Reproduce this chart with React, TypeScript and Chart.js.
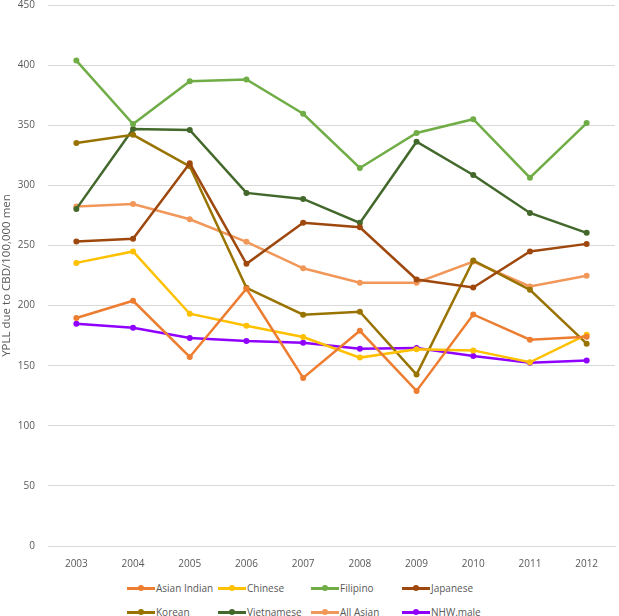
import React, { useEffect, useRef } from "react";
import { Chart, registerables } from "chart.js";

Chart.register(...registerables);

const years = ["2003", "2004", "2005", "2006", "2007", "2008", "2009", "2010", "2011", "2012"];

const asianIndian = [189.6, 204, 157.2, 214, 139.8, 179, 129, 192.6, 171.6, 174];
const chinese = [235.5, 245, 193.2, 183.2, 173.8, 156.7, 163.6, 162.7, 152.8, 175.8];
const filipino = [403.8, 351, 386.6, 388, 359.5, 314.4, 343.5, 355, 306.4, 351.8];
const japanese = [253.2, 255.5, 318.3, 234.7, 268.8, 265.1, 221.7, 215, 245, 251.3];
const korean = [335.2, 342, 315.8, 214.8, 192.4, 194.9, 142.6, 237.5, 213.1, 168.3];
const vietnamese = [280.4, 346.8, 346, 293.7, 288.7, 268.8, 336.3, 308.6, 277, 260.5];
const allAsian = [282.3, 284.5, 271.8, 253, 231, 219, 219, 236.6, 215.9, 224.8];
const nhwMale = [184.9, 181.6, 173, 170.5, 169.1, 164.1, 164.7, 158, 152.5, 154.2];

const seriesNames = ["Asian Indian", "Chinese", "Filipino", "Japanese", "Korean", "Vietnamese", "All Asian", "NHW.male"];
const seriesData = [asianIndian, chinese, filipino, japanese, korean, vietnamese, allAsian, nhwMale];
const seriesColors = ["#ED7D31", "#FFC000", "#70AD47", "#9E480E", "#997300", "#43682B", "#F1975A", "#9000FF"];

const yTitle = "YPLL due to CBD/100,000 men";
const FONT = "'Open Sans', 'Noto Sans', sans-serif";

export default function App() {
  const ref = useRef<HTMLCanvasElement | null>(null);

  useEffect(() => {
    if (!ref.current) return;
    const chart = new Chart(ref.current, {
      type: "line",
      data: {
        labels: years,
        datasets: seriesNames.map((name, i) => ({
          label: name,
          data: seriesData[i],
          borderColor: seriesColors[i],
          backgroundColor: seriesColors[i],
          borderWidth: 2.5,
          pointRadius: 3,
          pointBorderWidth: 0,
          tension: 0,
        })),
      },
      options: {
        responsive: false,
        animation: false,
        layout: { padding: { top: 0, right: 0, bottom: 0, left: 0 } },
        plugins: {
          legend: { display: false },
          tooltip: { enabled: false },
        },
        scales: {
          x: {
            offset: true,
            afterFit: (s: any) => { s.height = 30; },
            grid: { display: false },
            border: { color: "#d9d9d9" },
            ticks: { color: "#595959", font: { family: FONT, size: 10 }, padding: 4, maxRotation: 0 },
          },
          y: {
            min: 0,
            max: 450,
            afterFit: (s: any) => { s.width = 48; },
            grid: { color: "#d9d9d9", drawTicks: false },
            border: { display: false },
            ticks: { stepSize: 50, color: "#595959", font: { family: FONT, size: 10 }, padding: 13 },
            title: { display: true, text: yTitle, color: "#595959", font: { family: FONT, size: 11.5 }, padding: { top: 0, bottom: 0 } },
          },
        },
      },
    });
    return () => chart.destroy();
  }, []);

  const colX = [127, 218, 311, 402];
  const rowY = [588, 612];

  return (
    <div style={{ position: "absolute", left: 0, top: 0, width: 619, height: 616, background: "#fff", fontFamily: FONT, overflow: "hidden" }}>
      <canvas ref={ref} width={619} height={590} style={{ display: "block", position: "absolute", left: 0, top: -14 }} />
      {seriesNames.map((name, i) => {
        const x = colX[i % 4];
        const y = rowY[Math.floor(i / 4)];
        return (
          <div
            key={name}
            style={{ position: "absolute", left: x, top: y - 8, height: 16, display: "flex", alignItems: "center", whiteSpace: "nowrap" }}
          >
            <div style={{ position: "relative", width: 28, height: 16 }}>
              <div style={{ position: "absolute", left: 0, top: 7, width: 28, height: 2.5, background: seriesColors[i] }} />
              <div style={{ position: "absolute", left: 11, top: 5, width: 6, height: 6, borderRadius: 3, background: seriesColors[i] }} />
            </div>
            <span style={{ fontSize: 10, color: "#595959", marginLeft: 1 }}>{name}</span>
          </div>
        );
      })}
    </div>
  );
}
